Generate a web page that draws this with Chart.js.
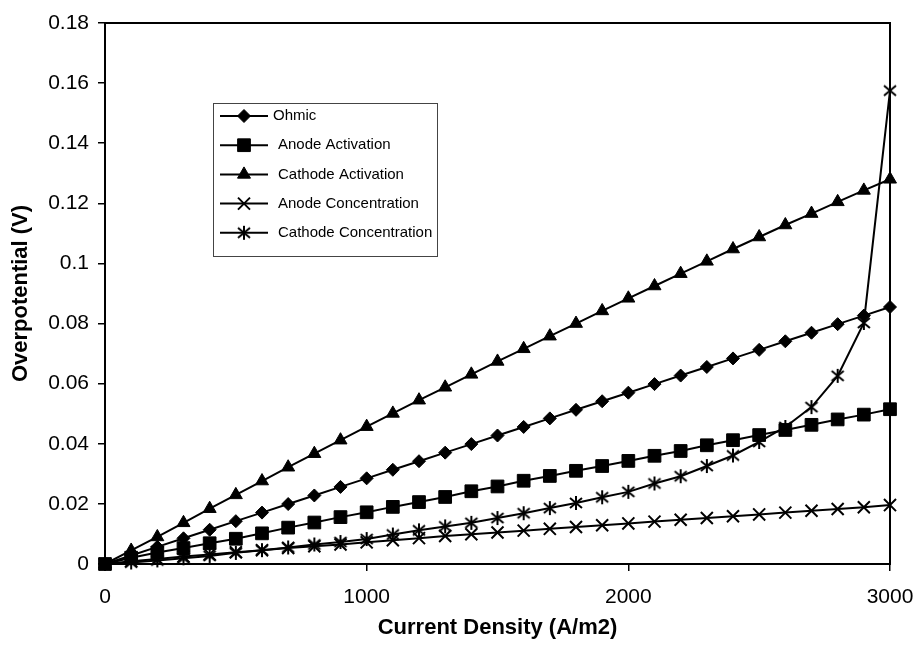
<!DOCTYPE html>
<html>
<head>
<meta charset="utf-8">
<script src="https://cdn.jsdelivr.net/npm/chart.js@4/dist/chart.umd.min.js"></script>
<style>
  body { margin: 0; background: #fff; }
  #chart { display: block; }
</style>
</head>
<body>
<canvas id="chart" width="915" height="647"></canvas>
<script>
// Current density (A/m2)
const currentDensity = [0, 100, 200, 300, 400, 500, 600, 700, 800, 900, 1000,
  1100, 1200, 1300, 1400, 1500, 1600, 1700, 1800, 1900, 2000,
  2100, 2200, 2300, 2400, 2500, 2600, 2700, 2800, 2900, 3000];

// overpotentials (V)
const ohmic = [0, 0.00285, 0.0057, 0.00855, 0.0114, 0.01425, 0.0171, 0.01995, 0.0228, 0.02565, 0.0285,
  0.03135, 0.0342, 0.03705, 0.0399, 0.04275, 0.0456, 0.04845, 0.0513, 0.05415, 0.057,
  0.05985, 0.0627, 0.06555, 0.0684, 0.07125, 0.0741, 0.07695, 0.0798, 0.08265, 0.0855];

const anodeActivation = [0, 0.0021, 0.0038, 0.0053, 0.0069, 0.0084, 0.0102, 0.0121, 0.0138, 0.0156, 0.0172,
  0.0190, 0.0206, 0.0223, 0.0242, 0.0258, 0.0277, 0.0293, 0.0310, 0.0326, 0.0343,
  0.0360, 0.0376, 0.0395, 0.0412, 0.0429, 0.0446, 0.0463, 0.0481, 0.0497, 0.0515];

const cathodeActivation = [0, 0.0045, 0.0090, 0.0137, 0.0184, 0.0230, 0.0276, 0.0322, 0.0367, 0.0412, 0.0457,
  0.0501, 0.0545, 0.0588, 0.0631, 0.0674, 0.0716, 0.0758, 0.0800, 0.0842, 0.0884,
  0.0925, 0.0966, 0.1007, 0.1048, 0.1088, 0.1128, 0.1166, 0.1205, 0.1243, 0.1280];

const anodeConcentration = [0, 0.0009, 0.0017, 0.0025, 0.0032, 0.0039, 0.0046, 0.0053, 0.0059, 0.0065, 0.0072,
  0.0079, 0.0086, 0.0093, 0.0099, 0.0105, 0.0111, 0.0117, 0.0123, 0.0129, 0.0135,
  0.0141, 0.0147, 0.0153, 0.0159, 0.0165, 0.0171, 0.0177, 0.0183, 0.0189, 0.0196];

const cathodeConcentration = [0, 0.0005, 0.0012, 0.0019, 0.0027, 0.0037, 0.0046, 0.0055, 0.0065, 0.0073, 0.0083,
  0.0098, 0.0112, 0.0125, 0.0137, 0.0153, 0.0169, 0.0186, 0.0203, 0.0222, 0.0240,
  0.0268, 0.0292, 0.0326, 0.0361, 0.0406, 0.0456, 0.0522, 0.0626, 0.0802, 0.1575];

const seriesLabels = ["Ohmic", "Anode Activation", "Cathode Activation", "Anode Concentration", "Cathode Concentration"];

const FONT = "'Liberation Sans', Arial, sans-serif";

// 6-armed asterisk marker (x with a vertical bar), like the Excel one
function asteriskMarker() {
  const c = document.createElement("canvas");
  c.width = 16;
  c.height = 16;
  const g = c.getContext("2d");
  g.strokeStyle = "#000";
  g.lineWidth = 2;
  g.beginPath();
  g.moveTo(8, 1); g.lineTo(8, 15);
  g.moveTo(2, 3); g.lineTo(14, 13);
  g.moveTo(14, 3); g.lineTo(2, 13);
  g.stroke();
  return c;
}
const asterisk = asteriskMarker();

function pairs(values) {
  return currentDensity.map((x, i) => ({ x: x, y: values[i] }));
}

function makeSet(label, values, style, radius, bw) {
  return {
    label: label,
    data: pairs(values),
    borderColor: "#000",
    backgroundColor: "#000",
    borderWidth: 2,
    pointStyle: style,
    pointRadius: radius,
    pointBorderWidth: bw,
    pointBackgroundColor: "#000",
    pointBorderColor: "#000",
    tension: 0,
    clip: false
  };
}

// frame round the plot area + the boxed legend
const framePlugin = {
  id: "frame",
  afterDraw(chart) {
    const ctx = chart.ctx;
    const a = chart.chartArea;
    ctx.save();
    ctx.strokeStyle = "#000";
    ctx.lineWidth = 2;
    ctx.strokeRect(a.left, a.top, a.right - a.left, a.bottom - a.top);

    // legend box
    const lx = 213, ly = 103, lw = 224, lh = 153;
    ctx.fillStyle = "#fff";
    ctx.fillRect(lx, ly, lw, lh);
    ctx.lineWidth = 1;
    ctx.strokeStyle = "#444";
    ctx.strokeRect(lx + 0.5, ly + 0.5, lw, lh);

    ctx.font = "15px " + FONT;
    ctx.textBaseline = "middle";
    chart.data.datasets.forEach((ds, i) => {
      const y = 116 + i * 29.2;
      ctx.strokeStyle = "#000";
      ctx.fillStyle = "#000";
      ctx.lineWidth = 2;
      ctx.beginPath();
      ctx.moveTo(220, y);
      ctx.lineTo(268, y);
      ctx.stroke();
      ctx.lineWidth = ds.pointBorderWidth;
      Chart.helpers.drawPoint(ctx, {
        pointStyle: ds.pointStyle,
        radius: ds.pointRadius,
        borderWidth: ds.pointBorderWidth,
        rotation: 0
      }, 244, y);
      ctx.fillStyle = "#000";
      ctx.fillText(ds.label, i === 0 ? 273 : 278, y);
    });
    ctx.restore();
  }
};

new Chart(document.getElementById("chart"), {
  type: "line",
  data: {
    datasets: [
      makeSet(seriesLabels[0], ohmic, "rectRot", 6.5, 1),
      makeSet(seriesLabels[1], anodeActivation, "rect", 9, 1),
      makeSet(seriesLabels[2], cathodeActivation, "triangle", 7.5, 1),
      makeSet(seriesLabels[3], anodeConcentration, "crossRot", 8.5, 2),
      makeSet(seriesLabels[4], cathodeConcentration, asterisk, 8, 2)
    ]
  },
  options: {
    responsive: false,
    animation: false,
    layout: { padding: { top: 23, right: 0, left: 0, bottom: 0 } },
    plugins: {
      legend: { display: false },
      tooltip: { enabled: false }
    },
    scales: {
      x: {
        type: "linear",
        min: 0,
        max: 3000,
        ticks: {
          stepSize: 1000,
          color: "#000",
          padding: 14,
          font: { family: FONT, size: 21 },
          callback: v => String(v)
        },
        grid: { drawOnChartArea: false, color: "#000", tickLength: 7, lineWidth: 1.5 },
        border: { color: "#000", width: 2 },
        title: {
          display: true,
          text: "Current Density (A/m2)",
          color: "#000",
          font: { family: FONT, size: 22, weight: "bold" },
          padding: { top: 0, bottom: 6 }
        },
        afterFit(scale) {
          scale.height = 83;
          scale.paddingLeft = 0;
          scale.paddingRight = 25;
        }
      },
      y: {
        min: 0,
        max: 0.18,
        ticks: {
          stepSize: 0.02,
          color: "#000",
          padding: 9,
          font: { family: FONT, size: 21 },
          callback: v => String(+v.toFixed(2))
        },
        grid: { drawOnChartArea: false, color: "#000", tickLength: 7, lineWidth: 1.5 },
        border: { color: "#000", width: 2 },
        title: {
          display: true,
          text: "Overpotential (V)",
          color: "#000",
          font: { family: FONT, size: 22, weight: "bold" },
          padding: { top: 8, bottom: 0 }
        },
        afterFit(scale) { scale.width = 105; }
      }
    }
  },
  plugins: [framePlugin]
});
</script>
</body>
</html>
